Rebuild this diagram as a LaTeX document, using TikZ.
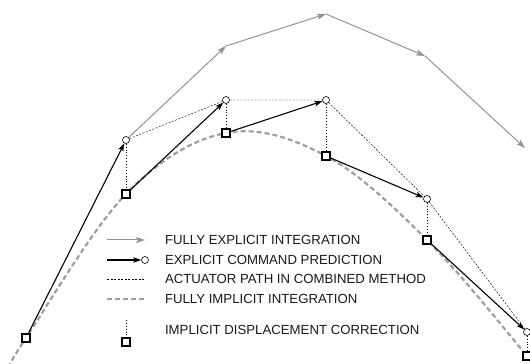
\documentclass[tikz,border=0pt]{standalone}
\usepackage{fontspec}
\setmainfont{Liberation Sans}
\usetikzlibrary{arrows.meta}
\tikzset{
  pred/.style={circle, draw=black, line width=0.6pt, fill=white, inner sep=0pt, minimum size=7pt},
  corr/.style={rectangle, draw=black, line width=1.8pt, fill=white, inner sep=0pt, minimum size=8.5pt},
  explarrow/.style={gray!85, line width=1pt, -{Stealth[length=9pt, width=6pt, inset=2pt]}},
  cmdarrow/.style={black, line width=1.1pt, -{Stealth[length=8pt, width=5.5pt, inset=2pt]}},
  actpath/.style={black, line width=0.45pt, dash pattern=on 2pt off 1.5pt},
  corrline/.style={black, line width=0.9pt, dotted},
  implpath/.style={gray!75, line width=2.2pt, dash pattern=on 5pt off 3pt},
  legtext/.style={anchor=west, text=black!90, font=\fontsize{13.2}{15}\selectfont}
}
\begin{document}
\begin{tikzpicture}[x=1pt, y=1pt]
  \useasboundingbox (0,0) rectangle (530,364);
  % Integration implicite (courbe)
  \draw[implpath] plot[smooth, tension=0.6] coordinates {(9,-4) (26,26) (126,170) (226,231) (326,208) (427,124) (527,8) (533,-2)};
  % Corrections implicites (carres)
  \foreach \i/\x/\y in {0/26/26, 1/126/170, 2/226/231, 3/326/208, 4/427/124, 5/527/8} {
    \node[corr] (C\i) at (\x,\y) {};
  }
  % Predictions explicites (cercles)
  \foreach \i/\x/\y in {1/126/224, 2/226/264, 3/326/264, 4/427/165, 5/527/32} {
    \node[pred] (P\i) at (\x,\y) {};
  }
  % Integration explicite (gris)
  \coordinate (G1) at (126,224);
  \foreach \i/\x/\y in {2/226/318, 3/326/350, 4/425/308, 5/525/216} {
    \coordinate (G\i) at (\x,\y);
  }
  \draw[explarrow] (P1) -- (G2);
  \foreach \i [evaluate=\i as \j using int(\i+1)] in {2,3,4} {
    \draw[explarrow] (G\i) -- (G\j);
  }
  % Chemin de l'actionneur
  \draw[actpath] (P1) -- (P2) -- (P3) -- (P4) -- (P5);
  % Corrections
  \foreach \i in {1,...,5} {
    \draw[corrline] (P\i) -- (C\i);
  }
  % Predictions de commande
  \foreach \i [evaluate=\i as \j using int(\i+1)] in {0,...,4} {
    \draw[cmdarrow] (C\i) -- (P\j);
  }
  % Legende
  \coordinate (La) at (107,124); \coordinate (Lb) at (145,124);
  \draw[explarrow] (La) -- (Lb);
  \coordinate (Lc) at (107,104); \node[pred] (Ld) at (145,104) {};
  \draw[cmdarrow] (Lc) -- (Ld);
  \coordinate (Le) at (107,85); \coordinate (Lf) at (145,85);
  \draw[actpath] (Le) -- (Lf);
  \coordinate (Lg) at (107,65); \coordinate (Lh) at (145,65);
  \draw[implpath, line width=1.3pt] (Lg) -- (Lh);
  \coordinate (Li) at (126,44); \node[corr] (Lj) at (126,22) {};
  \draw[corrline] (Li) -- (Lj);
  \node[legtext] (T1) at (161.5,124) {FULLY EXPLICIT INTEGRATION};
  \node[legtext] (T2) at (161.5,104) {EXPLICIT COMMAND PREDICTION};
  \node[legtext] (T3) at (161.5,85) {ACTUATOR PATH IN COMBINED METHOD};
  \node[legtext] (T4) at (161.5,65) {FULLY IMPLICIT INTEGRATION};
  \node[legtext] (T5) at (161.5,34) {IMPLICIT DISPLACEMENT CORRECTION};
\end{tikzpicture}
\end{document}
